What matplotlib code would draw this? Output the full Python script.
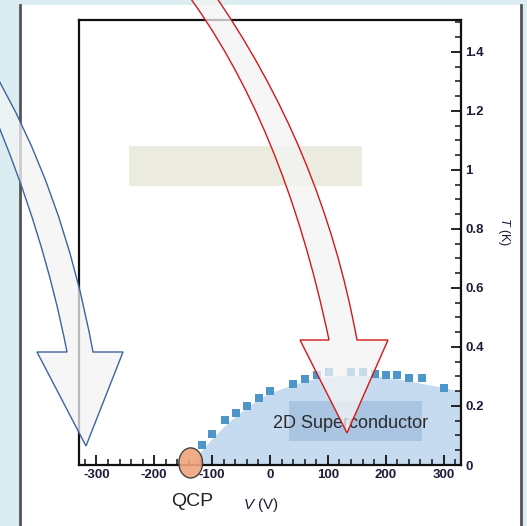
import matplotlib
matplotlib.use("Agg")
import matplotlib.pyplot as plt
from matplotlib import font_manager
from matplotlib.patches import Rectangle, Ellipse, PathPatch
from matplotlib.path import Path
from matplotlib.ticker import MultipleLocator, FixedLocator, FixedFormatter

# measured Tc points (blue squares)
sc_voltage = [-118, -100, -78, -59, -40, -19, 0, 40, 60, 81, 102, 140, 161, 182, 201, 220, 241, 262, 300]
sc_tc = [0.068, 0.105, 0.153, 0.176, 0.200, 0.227, 0.250, 0.275, 0.290, 0.305, 0.315,
         0.315, 0.315, 0.310, 0.305, 0.305, 0.295, 0.295, 0.260]

# outline of the shaded superconducting dome
dome_voltage = [-140, -120, -100, -80, -60, -40, -20, 0, 40, 80, 120, 160, 200, 240, 280, 330]
dome_tc = [0.0, 0.045, 0.09, 0.13, 0.165, 0.195, 0.222, 0.245, 0.272, 0.295, 0.305,
           0.305, 0.298, 0.285, 0.27, 0.25]

qcp_voltage = -137

x_ticks = [-300, -200, -100, 0, 100, 200, 300]
x_tick_labels = ["-300", "-200", "-100", "0", "100", "200", "300"]
y_ticks = [0, 0.2, 0.4, 0.6, 0.8, 1.0, 1.2, 1.4]
y_tick_labels = ["0", "0.2", "0.4", "0.6", "0.8", "1", "1.2", "1.4"]

W, H = 527, 526


def _family() -> str:
    names = {f.name for f in font_manager.fontManager.ttflist}
    for name in ("Liberation Sans Narrow", "Liberation Sans", "DejaVu Sans"):
        if name in names:
            return name
    return "DejaVu Sans"


def _arrow_path(left, right, head_l, tip, head_r):
    # left/right: (start, control, end) of a quadratic curve for each shaft edge
    l0, lc, l1 = left
    r0, rc, r1 = right
    verts = [l0, lc, l1, (head_l, l1[1]), tip, (head_r, r1[1]), r1, rc, r0, l0]
    codes = [Path.MOVETO, Path.CURVE3, Path.CURVE3, Path.LINETO, Path.LINETO,
             Path.LINETO, Path.LINETO, Path.CURVE3, Path.CURVE3, Path.CLOSEPOLY]
    return Path(verts, codes)


family = _family()
plt.rcParams["font.family"] = [family, "DejaVu Sans"]
plt.rcParams["mathtext.fontset"] = "custom"
plt.rcParams["mathtext.rm"] = family
plt.rcParams["mathtext.it"] = f"{family}:italic"

fig = plt.figure(figsize=(W / 100, H / 100), dpi=100)
fig.patch.set_facecolor("#dcedf1")

# white panel behind the chart
bg = fig.add_axes([0, 0, 1, 1], zorder=0)
bg.set_xlim(0, W)
bg.set_ylim(H, 0)
bg.axis("off")
bg.add_patch(Rectangle((20, 5), 501, 530, facecolor="white", edgecolor="none"))
bg.plot([20, 20], [5, H], color="#555555", lw=2)
bg.plot([521, 521], [5, H], color="#555555", lw=2)

ax = fig.add_axes([79 / W, 61 / H, 382 / W, 445 / H], zorder=1)
ax.set_facecolor("none")
ax.set_xlim(-330, 330)
ax.set_ylim(0, 1.508)
for sp in ax.spines.values():
    sp.set_linewidth(1.6)
    sp.set_color("#111111")

ax.add_patch(Rectangle((-244, 0.946), 403, 0.134, facecolor="#ecebe0", edgecolor="none"))
ax.fill_between(dome_voltage, 0, dome_tc, color="#c6dbef", lw=0)
ax.add_patch(Rectangle((33, 0.081), 230, 0.136, facecolor="#a9c5e1", edgecolor="none"))
ax.plot(sc_voltage, sc_tc, "s", color="#4e95c9", ms=6, mew=0)
ax.text(140, 0.14, "2D Superconductor", ha="center", va="center", fontsize=13, color="#2b2b2b")
ax.add_patch(Ellipse((qcp_voltage, 0.007), 41, 0.102, facecolor="#f0a47c", edgecolor="#333333",
                     lw=1, alpha=0.9, clip_on=False, zorder=5))

ax.yaxis.tick_right()
ax.xaxis.set_major_locator(FixedLocator(x_ticks))
ax.xaxis.set_major_formatter(FixedFormatter(x_tick_labels))
ax.xaxis.set_minor_locator(MultipleLocator(20))
ax.yaxis.set_major_locator(FixedLocator(y_ticks))
ax.yaxis.set_major_formatter(FixedFormatter(y_tick_labels))
ax.yaxis.set_minor_locator(MultipleLocator(0.05))
ax.tick_params(which="major", direction="in", length=7, width=1.3, color="#111111",
               labelsize=9.5, labelcolor="#1c1c3a", pad=3)
ax.tick_params(which="minor", direction="in", length=4, width=1.1, color="#111111")
for lab in ax.get_xticklabels() + ax.get_yticklabels():
    lab.set_fontweight("bold")

# overlay with the two curved arrows and the free labels
ov = fig.add_axes([0, 0, 1, 1], zorder=2)
ov.set_xlim(0, W)
ov.set_ylim(H, 0)
ov.axis("off")
ov.patch.set_alpha(0)

blue_arrow = _arrow_path(((-8, 110), (44, 233), (67, 352)),
                         ((-10, 65), (63, 188), (93, 352)), 37, (86, 446), 123)
red_arrow = _arrow_path(((183, -12), (283, 121), (329, 340)),
                        ((210, -12), (322, 148), (357, 340)), 300, (347, 433), 388)
ov.add_patch(PathPatch(blue_arrow, facecolor="#f4f4f4", alpha=0.75, edgecolor="none"))
ov.add_patch(PathPatch(blue_arrow, facecolor="none", edgecolor="#3d64a0", lw=1))
ov.add_patch(PathPatch(red_arrow, facecolor="#f4f4f4", alpha=0.75, edgecolor="none"))
ov.add_patch(PathPatch(red_arrow, facecolor="none", edgecolor="#d21818", lw=1))

ov.text(192, 501, "QCP", ha="center", va="center", fontsize=14, color="#222222")
ov.text(261, 505, r"$V$ (V)", ha="center", va="center", fontsize=11, color="#1c1c3a")
ov.text(504, 232, r"$T$ (K)", ha="center", va="center", fontsize=9, rotation=-90, color="#1c1c3a")

fig.savefig("out.png", dpi=100)
